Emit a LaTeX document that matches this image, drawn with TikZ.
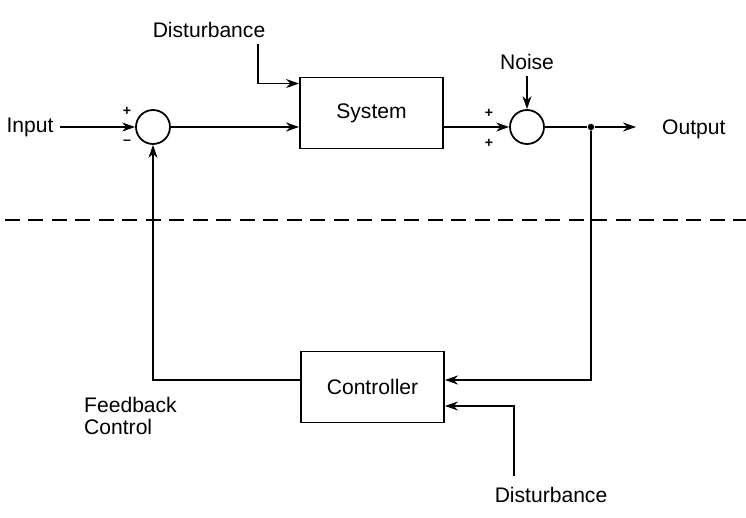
\documentclass[tikz,border=0pt]{standalone}
\usepackage{fontspec}
\setmainfont{Liberation Sans}
\usepackage{tikz}
\usetikzlibrary{arrows.meta, positioning, calc}

\begin{document}
\begin{tikzpicture}[
        x=0.02cm, y=-0.02cm,
        block/.style={rectangle, draw, line width=1.1pt, minimum width=2.86cm, minimum height=1.42cm, font=\fontsize{12}{14}\selectfont},
        sumnode/.style={circle, draw, line width=1pt, minimum size=0.68cm, inner sep=0pt},
        lbl/.style={font=\fontsize{12}{13}\selectfont},
        sgn/.style={font=\footnotesize\bfseries, inner sep=1pt},
        sig/.style={line width=0.9pt},
        sigarrow/.style={line width=0.9pt, -{Stealth[length=2.6mm, width=1.8mm]}}
    ]
        \useasboundingbox (0,0) rectangle (746,517);

        % Forward path
        \node[lbl] (inlbl) at (30,127) {Input};
        \node[sumnode] (sum1) at (153,127) {};
        \node[sgn] (p1) at (127,111) {+};
        \node[sgn] (m1) at (127,142) {--};
        \node[block] (sys) at (371.5,113) {System};
        \draw[sigarrow] (inlbl) -- (sum1);
        \draw[sigarrow] (sum1) -- (sum1 -| sys.west);

        % Disturbance on the system
        \node[lbl] (dist1) at (209,30) {Disturbance};
        \coordinate (d1a) at (258,44);
        \draw[sigarrow] (d1a) |- ([yshift=-0.14cm]sys.north west);

        % Noise and output
        \node[sumnode] (sum2) at (527,127) {};
        \node[sgn] (p2) at (489,113) {+};
        \node[sgn] (p3) at (489,143) {+};
        \node[lbl] (noise) at (527,62) {Noise};
        \draw[sigarrow] (noise) -- (sum2);
        \draw[sigarrow] (sys.east |- sum2) -- (sum2);
        \node[circle, fill, inner sep=0pt, minimum size=0.13cm] (dot) at (591,127) {};
        \coordinate (outend) at (636,127);
        \node[lbl, anchor=west] (outlbl) at (656,129) {Output};
        \draw[sig] (sum2) -- (dot);
        \draw[sigarrow] (dot) -- (outend);

        % Boundary
        \draw[line width=0.9pt, dash pattern=on 0.3cm off 0.17cm] (5,220) -- (746,220);

        % Feedback path
        \node[block] (ctrl) at (372.5,387) {Controller};
        \coordinate (fbcorner) at (591,380);
        \draw[sigarrow] (dot) -- (fbcorner) -- ([yshift=0.14cm]ctrl.east);
        \draw[sigarrow] ([yshift=0.14cm]ctrl.west) -| (sum1.south);
        \node[lbl, anchor=west, align=left] (fblbl) at (78,416) {Feedback\\Control};

        % Disturbance on the controller
        \node[lbl] (dist2) at (551,495) {Disturbance};
        \coordinate (d2a) at (514,476);
        \draw[sigarrow] (d2a) |- ([yshift=-0.38cm]ctrl.east);
    \end{tikzpicture}
\end{document}
